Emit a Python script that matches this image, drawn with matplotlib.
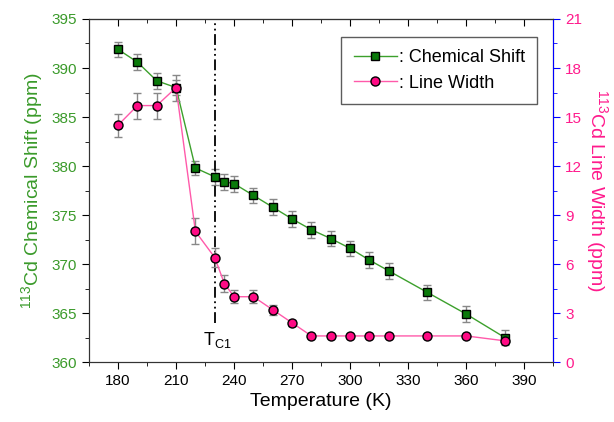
import matplotlib
matplotlib.use("Agg")
import matplotlib.pyplot as plt
from matplotlib.lines import Line2D
from matplotlib.ticker import MultipleLocator

plt.rcParams["font.family"] = ["Liberation Sans", "DejaVu Sans"]

# Chemical shift data (left axis, ppm)
temp_cs = [180, 190, 200, 210, 220, 230, 235, 240, 250, 260, 270, 280, 290, 300, 310, 320, 340, 360, 380]
chem_shift = [391.9, 390.6, 388.7, 388.0, 379.8, 378.9, 378.4, 378.2, 377.0, 375.8, 374.6, 373.5,
              372.6, 371.6, 370.4, 369.3, 367.1, 364.9, 362.5]
chem_err = [0.8, 0.8, 0.8, 0.8, 0.7, 0.8, 0.8, 0.8, 0.8, 0.8, 0.8, 0.8, 0.8, 0.8, 0.8, 0.8, 0.8, 0.8, 0.8]

# Line width data (right axis, ppm)
temp_lw = [180, 190, 200, 210, 220, 230, 235, 240, 250, 260, 270, 280, 290, 300, 310, 320, 340, 360, 380]
line_width = [14.5, 15.7, 15.7, 16.8, 8.0, 6.4, 4.8, 4.0, 4.0, 3.2, 2.4, 1.6, 1.6, 1.6, 1.6, 1.6, 1.6, 1.6, 1.3]
lw_err = [0.7, 0.8, 0.8, 0.8, 0.8, 0.6, 0.5, 0.4, 0.4, 0.3, 0.2, 0.0, 0.0, 0.0, 0.0, 0.0, 0.0, 0.0, 0.0]

tc1 = 230

green_txt = "#3a9a2a"
pink_txt = "#ff1a8c"
cs_style = dict(color="#3ca02c", lw=1.0, marker="s", ms=6, mfc="#0a7a0a", mec="black", mew=1.0)
lw_style = dict(color="#ff5aaa", lw=1.0, marker="o", ms=6.5, mfc="#ff0a84", mec="black", mew=1.0)

fig = plt.figure(figsize=(6.14, 4.22), dpi=100)
ax = fig.add_axes([0.145, 0.142, 0.756, 0.813])
ax2 = ax.twinx()

ax.errorbar(temp_cs, chem_shift, yerr=chem_err, ecolor="#888888", elinewidth=1.0, capsize=3, **cs_style)
ax2.errorbar(temp_lw, line_width, yerr=lw_err, ecolor="#888888", elinewidth=1.0, capsize=3, **lw_style)

ax.axvline(tc1, ymin=(364 - 360) / 35, ymax=1, color="black", lw=1.3, ls=(0, (6, 2, 1, 2, 1, 2)))
ax.text(tc1 - 6, 361.2, r"T$_{\mathregular{C1}}$", fontsize=13, ha="left", va="bottom")

ax.set_xlim(165, 405)
ax.set_ylim(360, 395)
ax2.set_ylim(0, 21)
ax.xaxis.set_major_locator(MultipleLocator(30))
ax.xaxis.set_minor_locator(MultipleLocator(15))
ax.yaxis.set_major_locator(MultipleLocator(5))
ax.yaxis.set_minor_locator(MultipleLocator(2.5))
ax2.yaxis.set_major_locator(MultipleLocator(3))
ax2.yaxis.set_minor_locator(MultipleLocator(1.5))

ax.tick_params(axis="x", which="both", direction="out", labelsize=11)
ax.tick_params(axis="x", which="major", length=5)
ax.tick_params(axis="x", which="minor", length=3)
top = ax.secondary_xaxis("top")
top.xaxis.set_major_locator(MultipleLocator(30))
top.xaxis.set_minor_locator(MultipleLocator(15))
top.tick_params(which="both", direction="in", labeltop=False)
top.tick_params(which="major", length=5)
top.tick_params(which="minor", length=3)
top.spines["top"].set_color("#333333")

ax.tick_params(axis="y", which="major", direction="out", length=5, labelsize=11, labelcolor=green_txt)
ax.tick_params(axis="y", which="minor", direction="out", length=3)
ax2.tick_params(axis="y", which="major", direction="out", length=5, labelsize=11,
                labelcolor=pink_txt, color="blue")
ax2.tick_params(axis="y", which="minor", direction="out", length=3, color="blue")
ax2.spines["right"].set_color("blue")
for a in (ax, ax2):
    for s in ("left", "top", "bottom"):
        a.spines[s].set_color("#333333")

ax.set_xlabel("Temperature (K)", fontsize=14)
ax.set_ylabel(r"$^{\mathregular{113}}$Cd Chemical Shift (ppm)", fontsize=14, color=green_txt, labelpad=4)
ax2.set_ylabel(r"$^{\mathregular{113}}$Cd Line Width (ppm)", fontsize=14, color=pink_txt,
               rotation=270, labelpad=20)

handles = [Line2D([], [], **cs_style), Line2D([], [], **lw_style)]
labels = [": Chemical Shift", ": Line Width"]
leg = ax2.legend(handles, labels, loc="upper right", bbox_to_anchor=(0.966, 0.948), borderaxespad=0,
                 fontsize=13, frameon=True, fancybox=False, edgecolor="#333333", handlelength=2.4,
                 handletextpad=0.1, borderpad=0.7, labelspacing=0.45)
leg.get_frame().set_linewidth(1.0)

fig.savefig("out.png", dpi=100)
